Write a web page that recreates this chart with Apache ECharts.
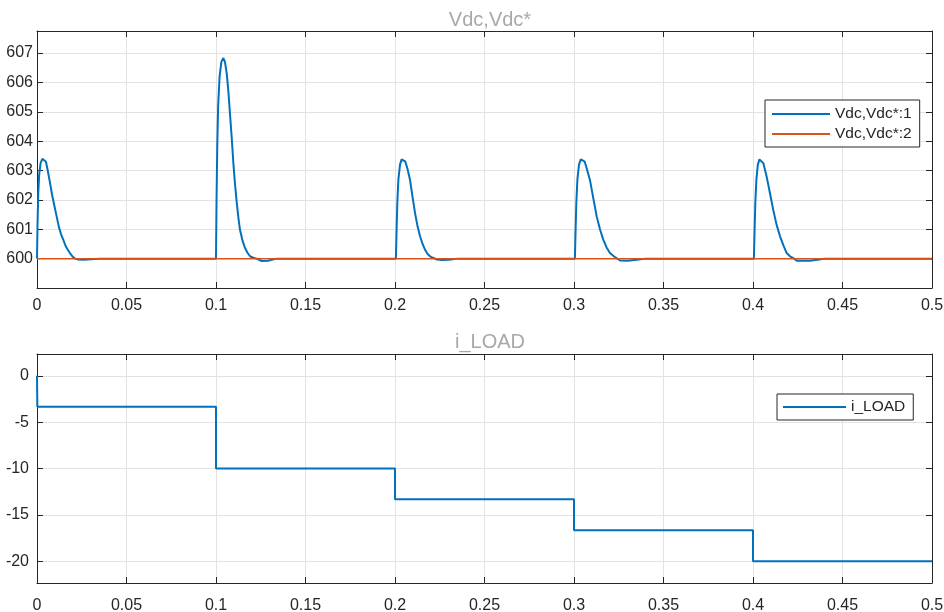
<!DOCTYPE html>
<html>
<head>
<meta charset="utf-8">
<script src="https://cdn.jsdelivr.net/npm/echarts@6/dist/echarts.min.js"></script>
<style>
  html, body { margin: 0; padding: 0; background: #fff; }
  #main { width: 944px; height: 612px; }
</style>
</head>
<body>
<div id="main"></div>
<script>
// Vdc,Vdc*:1  -- measured DC link voltage [time, value]
const vdcMeasured = [
  [0, 600], [0.0003, 601.2], [0.0007, 602.2], [0.0012, 602.85], [0.002, 603.25], [0.003, 603.4],
  [0.004, 603.42], [0.005, 603.3], [0.006, 603.0], [0.0073, 602.57], [0.0085, 602.15], [0.0097, 601.8],
  [0.011, 601.43], [0.0122, 601.08], [0.0135, 600.82], [0.0147, 600.64], [0.016, 600.43], [0.0172, 600.3],
  [0.0184, 600.19], [0.0197, 600.08], [0.021, 600.01], [0.023, 599.97], [0.026, 599.96], [0.03, 599.98],
  [0.035, 600], [0.1, 600],
  [0.1003, 602.0], [0.1007, 603.8], [0.1012, 605.2], [0.102, 606.2], [0.103, 606.7], [0.1041, 606.83],
  [0.105, 606.7], [0.106, 606.3], [0.1069, 605.7], [0.1078, 604.94], [0.1088, 604.1], [0.1097, 603.25],
  [0.1106, 602.55], [0.1116, 601.9], [0.1125, 601.4], [0.1134, 600.98], [0.1148, 600.62], [0.1162, 600.36],
  [0.1176, 600.2], [0.119, 600.08], [0.1208, 600.03], [0.1227, 600.0], [0.1255, 599.92], [0.129, 599.93],
  [0.1339, 600], [0.2005, 600],
  [0.2009, 601.0], [0.2013, 601.9], [0.2019, 602.7], [0.2028, 603.2], [0.2037, 603.38], [0.2046, 603.42],
  [0.2058, 603.3], [0.207, 603.05], [0.2084, 602.68], [0.2098, 602.1], [0.2112, 601.55], [0.2126, 601.1],
  [0.214, 600.76], [0.2154, 600.5], [0.2168, 600.3], [0.2182, 600.16], [0.2196, 600.08], [0.2215, 600.02],
  [0.2235, 599.97], [0.226, 599.95], [0.23, 599.96], [0.235, 600], [0.3005, 600],
  [0.3009, 601.0], [0.3013, 601.9], [0.3019, 602.7], [0.3028, 603.2], [0.3038, 603.38], [0.3049, 603.42],
  [0.306, 603.3], [0.3072, 603.05], [0.3089, 602.68], [0.3108, 602.05], [0.3127, 601.43], [0.3145, 601.0],
  [0.3164, 600.64], [0.3182, 600.38], [0.3201, 600.19], [0.3229, 600.05], [0.3257, 599.94], [0.33, 599.93],
  [0.335, 599.96], [0.34, 600], [0.4005, 600],
  [0.4009, 601.0], [0.4013, 601.9], [0.4019, 602.7], [0.4027, 603.2], [0.4036, 603.38], [0.4045, 603.42],
  [0.4058, 603.25], [0.4076, 602.8], [0.4094, 602.25], [0.4113, 601.66], [0.4132, 601.15], [0.4151, 600.76],
  [0.417, 600.45], [0.4188, 600.19], [0.4207, 600.08], [0.4225, 600.02], [0.4244, 599.93], [0.4318, 599.93],
  [0.437, 599.97], [0.44, 600], [0.5, 600]
];
// Vdc,Vdc*:2  -- reference voltage
const vdcRef = [[0, 600], [0.5, 600]];
// i_LOAD step profile
const iLoad = [
  [0, 0], [0.0002, -3.33], [0.1, -3.33], [0.1, -10], [0.2, -10], [0.2, -13.33],
  [0.3, -13.33], [0.3, -16.67], [0.4, -16.67], [0.4, -20], [0.5, -20]
];

const titles = ['Vdc,Vdc*', 'i_LOAD'];
const legendTop = ['Vdc,Vdc*:1', 'Vdc,Vdc*:2'];
const legendBottom = ['i_LOAD'];
const vdcTicks = [600, 601, 602, 603, 604, 605, 606, 607];
const iLoadTicks = [-20, -15, -10, -5, 0];

const ink = '#262626';
const gridColor = '#e3e3e3';
const blue = '#0072BD';
const orange = '#D95319';
const font = '"Liberation Sans", Arial, sans-serif';

const chart = echarts.init(document.getElementById('main'), null, { renderer: 'canvas' });

function xAxes(gi, labelMargin) {
  return [{
    gridIndex: gi, type: 'value', min: 0, max: 0.5, interval: 0.05, position: 'bottom',
    axisLine: { show: true, onZero: false, lineStyle: { color: ink, width: 1 } },
    axisTick: { show: true, inside: true, length: 6, lineStyle: { color: ink } },
    axisLabel: { margin: labelMargin, color: ink, fontSize: 16, fontFamily: font },
    splitLine: { show: true, lineStyle: { color: gridColor, width: 1 } }
  }, {
    gridIndex: gi, type: 'value', min: 0, max: 0.5, interval: 0.05, position: 'top',
    axisLine: { show: true, onZero: false, lineStyle: { color: ink, width: 1 } },
    axisTick: { show: true, inside: true, length: 6, lineStyle: { color: ink } },
    axisLabel: { show: false },
    splitLine: { show: false }
  }]
}

function yAxes(gi, min, max, ticks, labelMargin) {
  return [{
    gridIndex: gi, type: 'value', min: min, max: max, position: 'left',
    axisLine: { show: true, onZero: false, lineStyle: { color: ink, width: 1 } },
    axisTick: { show: true, inside: true, length: 6, customValues: ticks, lineStyle: { color: ink } },
    axisLabel: { margin: labelMargin, color: ink, fontSize: 16, fontFamily: font, customValues: ticks },
    splitLine: { show: true, lineStyle: { color: gridColor, width: 1 } }
  }, {
    gridIndex: gi, type: 'value', min: min, max: max, position: 'right',
    axisLine: { show: true, onZero: false, lineStyle: { color: ink, width: 1 } },
    axisTick: { show: true, inside: true, length: 6, customValues: ticks, lineStyle: { color: ink } },
    axisLabel: { show: false },
    splitLine: { show: false }
  }]
}

const legendBase = {
  orient: 'vertical',
  icon: 'rect',
  itemHeight: 2,
  backgroundColor: '#fff',
  borderColor: ink,
  borderWidth: 1,
  borderRadius: 0,
  itemGap: 4,
  textStyle: { color: ink, fontSize: 15.5, fontFamily: font, lineHeight: 16 },
  selectedMode: false
};

const option = {
  animation: false,
  backgroundColor: '#fff',
  title: [
    { text: titles[0], left: 485, top: 5, textAlign: 'center',
      textStyle: { color: '#a8a8a8', fontSize: 20, fontWeight: 'normal', fontFamily: font } },
    { text: titles[1], left: 485, top: 327, textAlign: 'center',
      textStyle: { color: '#a8a8a8', fontSize: 20, fontWeight: 'normal', fontFamily: font } }
  ],
  grid: [
    { left: 37, top: 31, width: 895, height: 257, containLabel: false, outerBoundsMode: 'none' },
    { left: 37, top: 354, width: 895, height: 229, containLabel: false, outerBoundsMode: 'none' }
  ],
  legend: [
    Object.assign({}, legendBase, { data: legendTop, left: 765, top: 100, itemWidth: 58, padding: [6, 8, 5, 7] }),
    Object.assign({}, legendBase, { data: legendBottom, left: 777, top: 394, itemWidth: 63, padding: [5, 8, 5, 6] })
  ],
  xAxis: xAxes(0, 10).concat(xAxes(1, 15)),
  yAxis: yAxes(0, 599, 607.75, vdcTicks, 4).concat(yAxes(1, -22.35, 2.35, iLoadTicks, 8)),
  series: [
    { name: legendTop[0], type: 'line', xAxisIndex: 0, yAxisIndex: 0, data: vdcMeasured,
      symbol: 'none', color: blue, lineStyle: { width: 2, color: blue }, z: 2 },
    { name: legendTop[1], type: 'line', xAxisIndex: 0, yAxisIndex: 0, data: vdcRef,
      symbol: 'none', color: orange, lineStyle: { width: 1.5, color: orange }, z: 3 },
    { name: legendBottom[0], type: 'line', xAxisIndex: 2, yAxisIndex: 2, data: iLoad,
      symbol: 'none', color: blue, lineStyle: { width: 2, color: blue }, z: 2 }
  ]
};

chart.setOption(option);
</script>
</body>
</html>
